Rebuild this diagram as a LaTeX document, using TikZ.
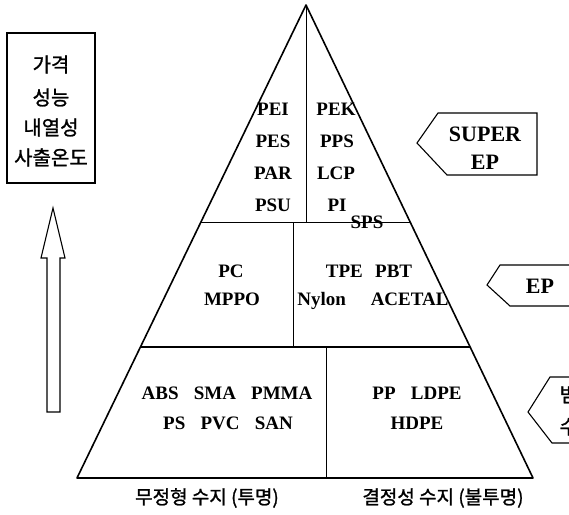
\documentclass[tikz,border=0pt]{standalone}
\usepackage{fontspec}
\usetikzlibrary{calc}
\setmainfont{Liberation Serif}
\newfontfamily\kr[FakeBold=1.2]{Noto Sans CJK KR}
\begin{document}
\begin{tikzpicture}[x=1pt,y=-1pt,
  edge/.style={line width=1.6pt,line join=round},
  divider/.style={line width=1.1pt},
  resin/.style={font=\fontsize{19}{19}\selectfont\bfseries,inner sep=0pt,anchor=base},
  tag/.style={font=\fontsize{22}{22}\selectfont\bfseries,inner sep=0pt,anchor=base},
  krtext/.style={font=\kr\fontsize{19}{19}\selectfont,inner sep=0pt,anchor=base},
  krbox/.style={font=\kr\fontsize{20}{20}\selectfont,inner sep=0pt,anchor=base},
  outline/.style={line width=1.1pt,line join=miter}]
\useasboundingbox (0,0) rectangle (569,514);
% pyramid
\coordinate (A) at (306,5);
\coordinate (BL) at (77,478);
\coordinate (BR) at (533,478);
\coordinate (L1) at ($(A)!0.459!(BL)$);
\coordinate (R1) at ($(A)!0.459!(BR)$);
\coordinate (L2) at ($(A)!0.723!(BL)$);
\coordinate (R2) at ($(A)!0.723!(BR)$);
\draw[edge] (BL) -- (A) -- (BR) -- cycle;
\draw[divider] (L1) -- (R1);
\draw[divider] (L2) -- (R2);
\coordinate (V1t) at (306,5);
\coordinate (V1b) at (306,222);
\coordinate (V2t) at (293,222);
\coordinate (V2b) at (293,347);
\coordinate (V3t) at (326,347);
\coordinate (V3b) at (326,478);
\draw[line width=0.8pt] (V1t) -- (V1b);
\draw[line width=0.9pt] (V2t) -- (V2b);
\draw[line width=0.9pt] (V3t) -- (V3b);
% super EP texts
\node[resin] (pei) at (273,115) {PEI};
\node[resin] (pes) at (273,147) {PES};
\node[resin] (par) at (273,179) {PAR};
\node[resin] (psu) at (273,211) {PSU};
\node[resin] (pek) at (336,115) {PEK};
\node[resin] (pps) at (337,147) {PPS};
\node[resin] (lcp) at (336,179) {LCP};
\node[resin] (pi) at (337,211) {PI};
\node[resin] (sps) at (367,228) {SPS};
% EP texts
\node[resin] (pc) at (231,277) {PC};
\node[resin] (mppo) at (232,305) {MPPO};
\node[resin] (tpe) at (369,277) {TPE\hspace{0.65em}PBT};
\node[resin] (nylon) at (373,305) {Nylon\hspace{1.3em}ACETAL};
% general texts
\node[resin] (abs) at (227,399) {ABS\hspace{0.8em}SMA\hspace{0.8em}PMMA};
\node[resin] (ps) at (228,429) {PS\hspace{0.8em}PVC\hspace{0.8em}SAN};
\node[resin] (pp) at (417,399) {PP\hspace{0.8em}LDPE};
\node[resin] (hdpe) at (417,429) {HDPE};
% bottom labels
\node[krtext] (amo) at (207,504) {무정형 수지 (투명)};
\node[krtext] (cry) at (443,504) {결정성 수지 (불투명)};
% left box
\draw[outline] (7,33) rectangle (95,183);
\node[krbox] (k1) at (51,72) {가격};
\node[krbox] (k2) at (51,105) {성능};
\node[krbox] (k3) at (51,135) {내열성};
\node[krbox] (k4) at (51,165) {사출온도};
% block arrow
\draw[outline] (47,412) -- (47,258) -- (41,258) -- (53,208) -- (65,258) -- (60,258) -- (60,412) -- cycle;
% pentagon tags
\draw[outline] (417,143) -- (438,113) -- (537,113) -- (537,175) -- (447,175) -- cycle;
\node[tag] (super) at (485,141) {SUPER};
\node[tag] (superep) at (485,169) {EP};
\draw[outline] (487,285) -- (500,265) -- (575,265) -- (575,306) -- (510,306) -- cycle;
\node[tag] (ep) at (540,293) {EP};
\draw[outline] (528,412) -- (550,377) -- (600,377) -- (600,443) -- (552,443) -- cycle;
\node[krbox] (gen1) at (578,402) {범용};
\node[krbox] (gen2) at (578,434) {수지};
\end{tikzpicture}
\end{document}
